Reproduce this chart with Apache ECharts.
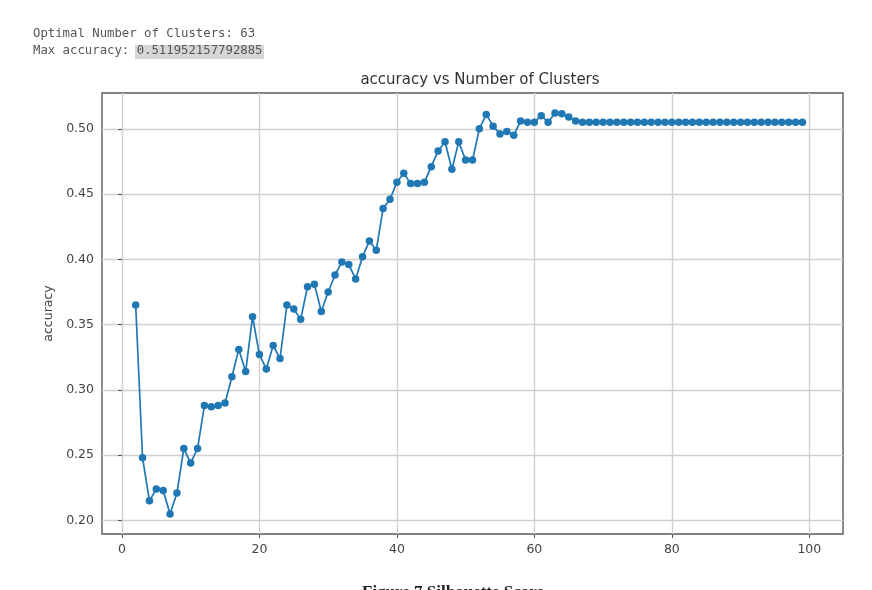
<!DOCTYPE html>
<html>
<head>
<meta charset="utf-8">
<script src="https://cdn.jsdelivr.net/npm/echarts@6/dist/echarts.min.js"></script>
<style>
  html, body { margin: 0; padding: 0; background: #fff; }
  #chart { width: 872px; height: 590px; }
</style>
</head>
<body>
<div id="chart"></div>
<script>
var clusters = [2, 3, 4, 5, 6, 7, 8, 9, 10, 11, 12, 13, 14, 15, 16, 17, 18, 19, 20,
    21, 22, 23, 24, 25, 26, 27, 28, 29, 30, 31, 32, 33, 34, 35, 36, 37, 38, 39, 40,
    41, 42, 43, 44, 45, 46, 47, 48, 49, 50, 51, 52, 53, 54, 55, 56, 57, 58, 59, 60,
    61, 62, 63, 64, 65, 66, 67, 68, 69, 70, 71, 72, 73, 74, 75, 76, 77, 78, 79, 80,
    81, 82, 83, 84, 85, 86, 87, 88, 89, 90, 91, 92, 93, 94, 95, 96, 97, 98, 99, 100];

var accuracy = [0.365, 0.248, 0.215, 0.224, 0.223, 0.205, 0.221, 0.255, 0.244,
    0.255, 0.288, 0.287, 0.288, 0.290, 0.310, 0.331, 0.314, 0.356, 0.327,
    0.316, 0.334, 0.324, 0.365, 0.362, 0.354, 0.379, 0.381, 0.360, 0.375,
    0.388, 0.398, 0.396, 0.385, 0.402, 0.414, 0.407, 0.439, 0.446, 0.459,
    0.466, 0.458, 0.458, 0.459, 0.471, 0.483, 0.490, 0.469, 0.490, 0.476,
    0.476, 0.500, 0.511, 0.502, 0.496, 0.498, 0.495, 0.506, 0.505, 0.505,
    0.510, 0.505, 0.512, 0.5115, 0.509, 0.506, 0.505, 0.505, 0.505, 0.505,
    0.505, 0.505, 0.505, 0.505, 0.505, 0.505, 0.505, 0.505, 0.505, 0.505,
    0.505, 0.505, 0.505, 0.505, 0.505, 0.505, 0.505, 0.505, 0.505, 0.505,
    0.505, 0.505, 0.505, 0.505, 0.505, 0.505, 0.505, 0.505, 0.505];

var xTicks = [0, 20, 40, 60, 80, 100];
var yTicks = [0.20, 0.25, 0.30, 0.35, 0.40, 0.45, 0.50];

var points = [];
clusters.forEach((c, i) => {
    points.push([c, accuracy[i]]);
});

var myChart = echarts.init(document.getElementById('chart'));
var option = {
    animation: false,
    backgroundColor: '#fff',
    title: {
        text: 'accuracy vs Number of Clusters',
        left: 475,
        textAlign: 'center',
        top: 68,
        textStyle: { fontFamily: 'DejaVu Sans', fontSize: 15, fontWeight: 'normal', color: '#333' }
    },
    graphic: [
        { type: 'text', left: 33, top: 28,
          style: { text: 'Optimal Number of Clusters: 63', font: '12.3px "DejaVu Sans Mono"', fill: '#555' } },
        { type: 'rect', shape: { x: 135, y: 45, width: 129, height: 14 },
          style: { fill: '#d6d6d6' } },
        { type: 'text', left: 33, top: 45,
          style: { text: 'Max accuracy: 0.511952157792885', font: '12.3px "DejaVu Sans Mono"', fill: '#555' } },
        { type: 'text', left: 362, top: 584,
          style: { text: 'Figure 7 Silhouette Score', font: 'bold 17px "Liberation Serif"', fill: '#222' } }
    ],
    grid: {
        left: 102, top: 93, width: 741, height: 441,
        show: true, borderColor: '#5a5a5a', borderWidth: 1.4
    },
    xAxis: {
        type: 'value',
        min: -2.9,
        max: 104.9,
        axisLine: { show: false },
        axisTick: { show: true, customValues: xTicks, length: 4, lineStyle: { color: '#555' } },
        axisLabel: { customValues: xTicks, fontFamily: 'DejaVu Sans', fontSize: 12.5, color: '#444', margin: 9 },
        splitLine: { show: true, lineStyle: { color: '#d0d0d0', width: 1.4 } }
    },
    yAxis: {
        type: 'value',
        name: 'accuracy',
        nameLocation: 'middle',
        nameGap: 43,
        nameTextStyle: { fontFamily: 'DejaVu Sans', fontSize: 12.5, color: '#444' },
        min: 0.1896,
        max: 0.5274,
        axisLine: { show: false },
        axisTick: { show: true, customValues: yTicks, length: 4, lineStyle: { color: '#555' } },
        axisLabel: {
            customValues: yTicks,
            fontFamily: 'DejaVu Sans', fontSize: 12.5, color: '#444', margin: 8,
            formatter: function(v){ return v.toFixed(2); }
        },
        splitLine: { show: true, lineStyle: { color: '#d0d0d0', width: 1.4 } }
    },
    series: [
        {
            name: 'accuracy',
            type: 'line',
            data: points,
            symbol: 'circle',
            symbolSize: 7.5,
            itemStyle: { color: '#1f77b4' },
            lineStyle: { color: '#1f77b4', width: 1.7 }
        }
    ]
};
myChart.setOption(option);
</script>
</body>
</html>
